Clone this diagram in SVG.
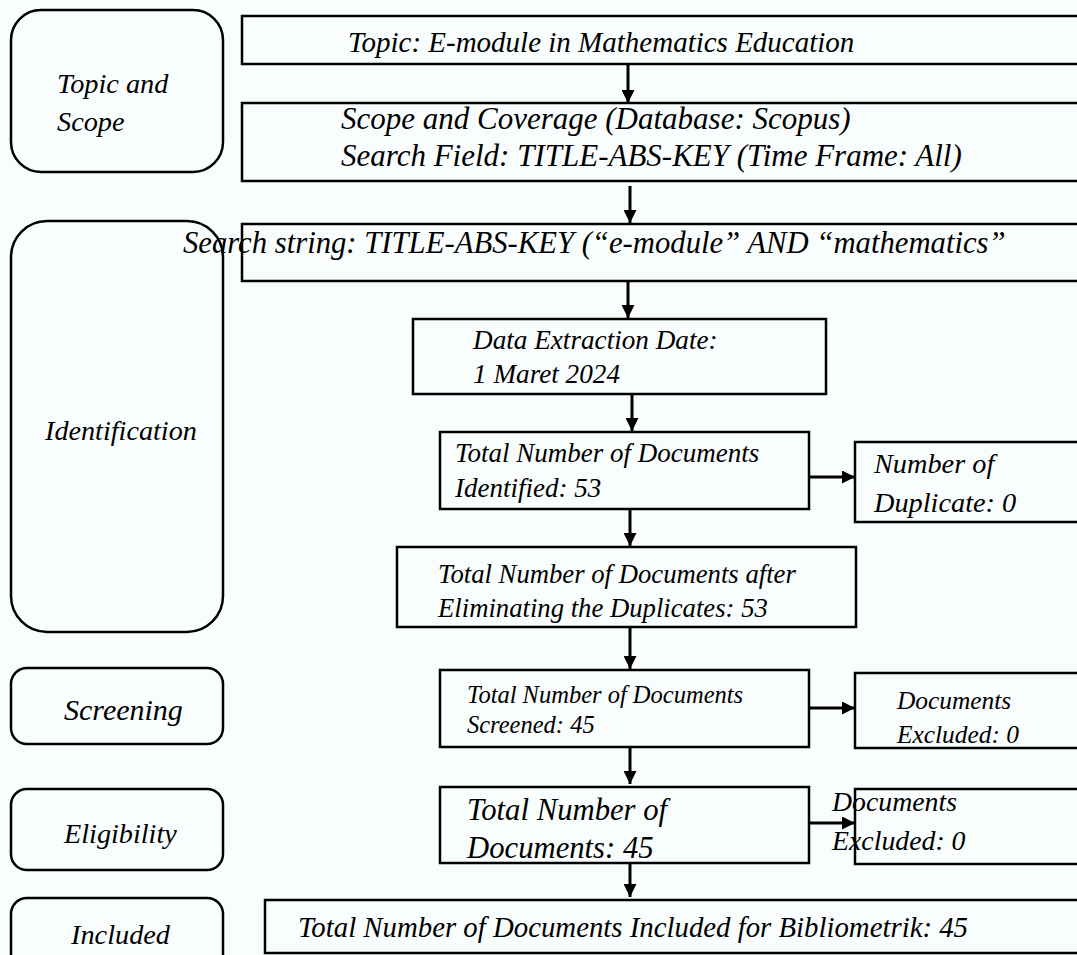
<svg xmlns="http://www.w3.org/2000/svg" width="1077" height="955" viewBox="0 0 1077 955">
<style>
.bg{fill:#f9fdfe}
.box{fill:none;stroke:#000;stroke-width:2.5}
.stage{fill:none;stroke:#000;stroke-width:2.5}
.t{font-family:"Liberation Serif","Times New Roman",serif;font-style:italic;fill:#000}
.conn{stroke:#000;stroke-width:3;fill:none}
</style>
<defs>
<marker id="ah" viewBox="0 0 13 13" refX="13" refY="6.5" markerWidth="13" markerHeight="13" markerUnits="userSpaceOnUse" orient="auto">
<path d="M0,0 L13,6.5 L0,13 z" fill="#000"/>
</marker>
</defs>
<rect class="bg" x="0" y="0" width="1077" height="955"/>

<g id="stage-topic">
<rect class="stage" x="11" y="10" width="212" height="162" rx="30" ry="30"/>
<text class="t" x="57" y="93" font-size="28.3">Topic and</text>
<text class="t" x="57" y="131" font-size="28.3">Scope</text>
</g>
<g id="stage-identification">
<rect class="stage" x="11" y="221" width="212" height="411" rx="36" ry="36"/>
<text class="t" x="45" y="440" font-size="28.2">Identification</text>
</g>
<g id="stage-screening">
<rect class="stage" x="11" y="668" width="212" height="76" rx="16" ry="16"/>
<text class="t" x="64" y="720" font-size="30">Screening</text>
</g>
<g id="stage-eligibility">
<rect class="stage" x="11" y="789" width="212" height="81" rx="16" ry="16"/>
<text class="t" x="64" y="843" font-size="28.2">Eligibility</text>
</g>
<g id="stage-included">
<rect class="stage" x="11" y="898" width="212" height="80" rx="16" ry="16"/>
<text class="t" x="71" y="944" font-size="28.3">Included</text>
</g>

<g id="topic">
<rect class="box" x="242" y="16" width="860" height="48"/>
<text class="t" x="348" y="52" font-size="29">Topic: E-module in Mathematics Education</text>
</g>
<g id="scope">
<rect class="box" x="242" y="103" width="860" height="78"/>
<text class="t" x="341" y="129" font-size="31">Scope and Coverage (Database: Scopus)</text>
<text class="t" x="341" y="166" font-size="31">Search Field: TITLE-ABS-KEY (Time Frame: All)</text>
</g>
<g id="search">
<rect class="box" x="242" y="224" width="860" height="57"/>
<text class="t" x="183" y="253" font-size="30.7">Search string: TITLE-ABS-KEY (“e-module” AND “mathematics”</text>
</g>
<g id="extraction">
<rect class="box" x="413" y="319" width="413" height="75"/>
<text class="t" x="473" y="349" font-size="27.2">Data Extraction Date:</text>
<text class="t" x="473" y="383" font-size="27.2">1 Maret 2024</text>
</g>
<g id="identified">
<rect class="box" x="440" y="432" width="369" height="77"/>
<text class="t" x="455" y="462" font-size="27">Total Number of Documents</text>
<text class="t" x="455" y="497" font-size="27">Identified: 53</text>
</g>
<g id="duplicate">
<rect class="box" x="855" y="442" width="240" height="80"/>
<text class="t" x="874" y="473" font-size="28.3">Number of</text>
<text class="t" x="874" y="512" font-size="28.3">Duplicate: 0</text>
</g>
<g id="after-dup">
<rect class="box" x="397" y="547" width="459" height="80"/>
<text class="t" x="438" y="583" font-size="26.7">Total Number of Documents after</text>
<text class="t" x="438" y="617" font-size="26.7">Eliminating the Duplicates: 53</text>
</g>
<g id="screened">
<rect class="box" x="440" y="670" width="369" height="77"/>
<text class="t" x="467" y="703" font-size="24.5">Total Number of Documents</text>
<text class="t" x="467" y="733" font-size="24.5">Screened: 45</text>
</g>
<g id="excluded1">
<rect class="box" x="855" y="673" width="240" height="75"/>
<text class="t" x="897" y="709" font-size="25.4">Documents</text>
<text class="t" x="897" y="743" font-size="25.4">Excluded: 0</text>
</g>
<g id="eligible">
<rect class="box" x="440" y="787" width="369" height="76"/>
<text class="t" x="467" y="820" font-size="30.7">Total Number of</text>
<text class="t" x="467" y="858" font-size="30.7">Documents: 45</text>
</g>
<g id="excluded2">
<rect class="box" x="855" y="789" width="240" height="75"/>
<text class="t" x="832" y="811" font-size="27.8">Documents</text>
<text class="t" x="832" y="850" font-size="27.8">Excluded: 0</text>
</g>
<g id="included">
<rect class="box" x="265" y="900" width="840" height="53"/>
<text class="t" x="298" y="937" font-size="28.8">Total Number of Documents Included for Bibliometrik: 45</text>
</g>

<g id="connectors">
<line class="conn" x1="628" y1="64" x2="628" y2="103" marker-end="url(#ah)"/>
<line class="conn" x1="630" y1="186" x2="630" y2="223" marker-end="url(#ah)"/>
<line class="conn" x1="628" y1="281" x2="628" y2="318" marker-end="url(#ah)"/>
<line class="conn" x1="632" y1="394" x2="632" y2="431" marker-end="url(#ah)"/>
<line class="conn" x1="630" y1="509" x2="630" y2="546" marker-end="url(#ah)"/>
<line class="conn" x1="630" y1="627" x2="630" y2="669" marker-end="url(#ah)"/>
<line class="conn" x1="630" y1="747" x2="630" y2="784" marker-end="url(#ah)"/>
<line class="conn" x1="630" y1="863" x2="630" y2="897" marker-end="url(#ah)"/>
<line class="conn" x1="809" y1="477" x2="855" y2="477" marker-end="url(#ah)"/>
<line class="conn" x1="809" y1="708" x2="855" y2="708" marker-end="url(#ah)"/>
<line class="conn" x1="809" y1="823" x2="855" y2="823" marker-end="url(#ah)"/>
</g>
</svg>
